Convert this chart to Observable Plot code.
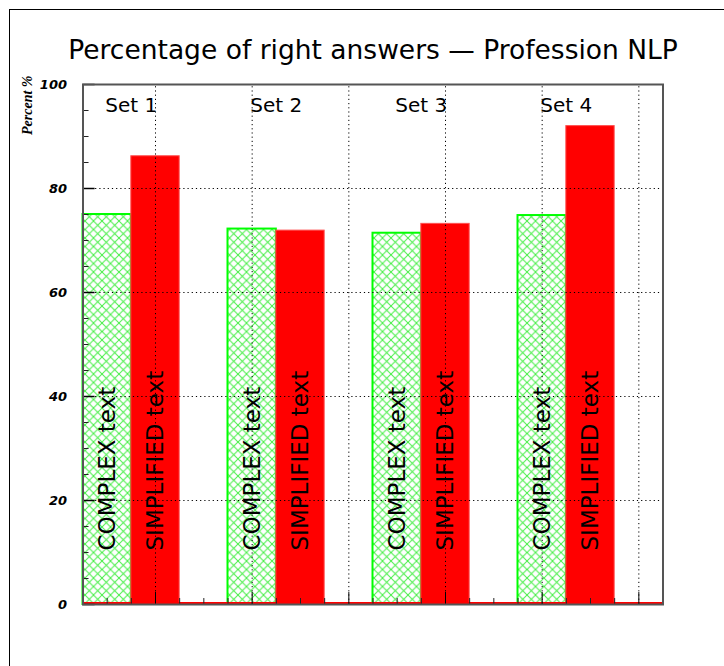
<!DOCTYPE html>
<html><head><meta charset="utf-8">
<script src="https://cdn.jsdelivr.net/npm/d3@7"></script>
<script src="https://cdn.jsdelivr.net/npm/@observablehq/plot@0.6"></script>
<style>
html,body{margin:0;padding:0;background:#fff;overflow:hidden;}
#wrap{position:relative;width:724px;height:666px;}
#border{position:absolute;left:9px;top:9px;width:760px;height:700px;border-left:1.5px solid #000;border-top:1.5px solid #000;}
#chart{position:absolute;left:0;top:0;}
</style></head><body>
<div id="wrap"><div id="border"></div><div id="chart"></div></div>
<script>
const title = "Percentage of right answers \u2014 Profession NLP";
const yLabel = "Percent %";
const sets = ["Set 1", "Set 2", "Set 3", "Set 4"];
const seriesNames = ["COMPLEX text", "SIMPLIFIED text"];
const complexValues = [75.0, 72.2, 71.4, 74.8];
const simplifiedValues = [86.2, 71.9, 73.2, 92.0];
const yTicks = [0, 20, 40, 60, 80, 100];
const yMinorTicks = [5, 10, 15, 25, 30, 35, 45, 50, 55, 65, 70, 75, 85, 90, 95];
const xDomain = [0, 24];
const xMinorTicks = [1, 2, 4, 5, 6, 8, 9, 10, 12, 13, 14, 16, 17, 18, 20, 21, 22];
const xGrid = [3, 7, 11, 15, 19, 23];

// layout: each set occupies 6 bins; each bar is 2 bins wide
const rows = sets.flatMap((s, i) => [
  {set: s, series: seriesNames[0], value: complexValues[i], x1: i * 6, x2: i * 6 + 2},
  {set: s, series: seriesNames[1], value: simplifiedValues[i], x1: i * 6 + 2, x2: i * 6 + 4}
]);
const complexRows = rows.filter(d => d.series === seriesNames[0]);
const simplifiedRows = rows.filter(d => d.series === seriesNames[1]);

const dotted = {stroke: "#000", strokeWidth: 1, strokeDasharray: "1.2,3"};

const plot = Plot.plot({
  width: 724,
  height: 666,
  marginLeft: 82.5,
  marginRight: 61.5,
  marginTop: 84,
  marginBottom: 62,
  style: {fontFamily: "DejaVu Sans", background: "transparent"},
  x: {domain: xDomain, axis: null},
  y: {domain: [0, 100], axis: null, label: null},
  marks: [
    Plot.rectY(complexRows, {x1: "x1", x2: "x2", y: "value", inset: 0, fill: "url(#xhatch)", stroke: "#00ff00", strokeWidth: 2}),
    Plot.rectY(simplifiedRows, {x1: "x1", x2: "x2", y: "value", inset: 0, fill: "#ff0000", stroke: "#ff5050", strokeWidth: 1}),
    Plot.ruleY([0], {stroke: "#ff0000", strokeWidth: 2, dy: -1.5}),
    Plot.ruleY(yTicks.filter(t => t > 0), dotted),
    Plot.ruleX(xGrid, {...dotted, y1: () => 0, y2: () => 100}),
    Plot.text(rows, {
      x: d => (d.x1 + d.x2) / 2, text: "series", frameAnchor: "bottom", dy: -54,
      rotate: -90, textAnchor: "start", lineAnchor: "middle", fontSize: 23, fill: "#000"
    }),
    Plot.text(sets, {
      x: (d, i) => i * 6 + 2, text: d => d, frameAnchor: "top", dy: 21,
      lineAnchor: "middle", fontSize: 20, fill: "#000"
    }),
    Plot.ruleY(yMinorTicks, {x1: () => 0, x2: () => 0.25, stroke: "#222", strokeWidth: 1}),
    Plot.ruleY(yTicks, {x1: () => 0, x2: () => 0.5, stroke: "#000", strokeWidth: 1.5}),
    Plot.ruleX(xMinorTicks, {y1: () => 0, y2: () => 1.15, stroke: "#222", strokeWidth: 1}),
    Plot.ruleX(xGrid, {y1: () => 0, y2: () => 2.3, stroke: "#000", strokeWidth: 1}),
    Plot.frame({stroke: "#555", strokeWidth: 2}),
    Plot.axisY({
      ticks: yTicks, tickSize: 0, tickPadding: 16, fontSize: 13, label: null,
      fontWeight: "bold", fontStyle: "italic", fontFamily: "DejaVu Sans", fill: "#000"
    }),
    Plot.text([yLabel], {
      text: d => d, frameAnchor: "top-left", dx: -55.5, dy: -9, rotate: -90,
      textAnchor: "end", lineAnchor: "middle", fontSize: 14, fontWeight: "bold",
      fontStyle: "italic", fontFamily: "Liberation Serif", fill: "#000"
    }),
    Plot.text([title], {
      text: d => d, frameAnchor: "top", dy: -34, lineAnchor: "middle",
      fontSize: 26.5, fill: "#000"
    })
  ]
});

// crosshatch pattern for the COMPLEX bars
const ns = "http://www.w3.org/2000/svg";
const defs = document.createElementNS(ns, "defs");
const pat = document.createElementNS(ns, "pattern");
pat.setAttribute("id", "xhatch");
pat.setAttribute("patternUnits", "userSpaceOnUse");
pat.setAttribute("width", "8.5");
pat.setAttribute("height", "8.5");
const bg = document.createElementNS(ns, "rect");
bg.setAttribute("width", "8.5"); bg.setAttribute("height", "8.5"); bg.setAttribute("fill", "#fff");
const p = document.createElementNS(ns, "path");
p.setAttribute("d", "M-2,-2L10.5,10.5M10.5,-2L-2,10.5");
p.setAttribute("stroke", "#44ee44");
p.setAttribute("stroke-width", "1");
p.setAttribute("fill", "none");
pat.appendChild(bg); pat.appendChild(p); defs.appendChild(pat);
plot.insertBefore(defs, plot.firstChild);

document.getElementById("chart").appendChild(plot);
</script>
</body></html>
